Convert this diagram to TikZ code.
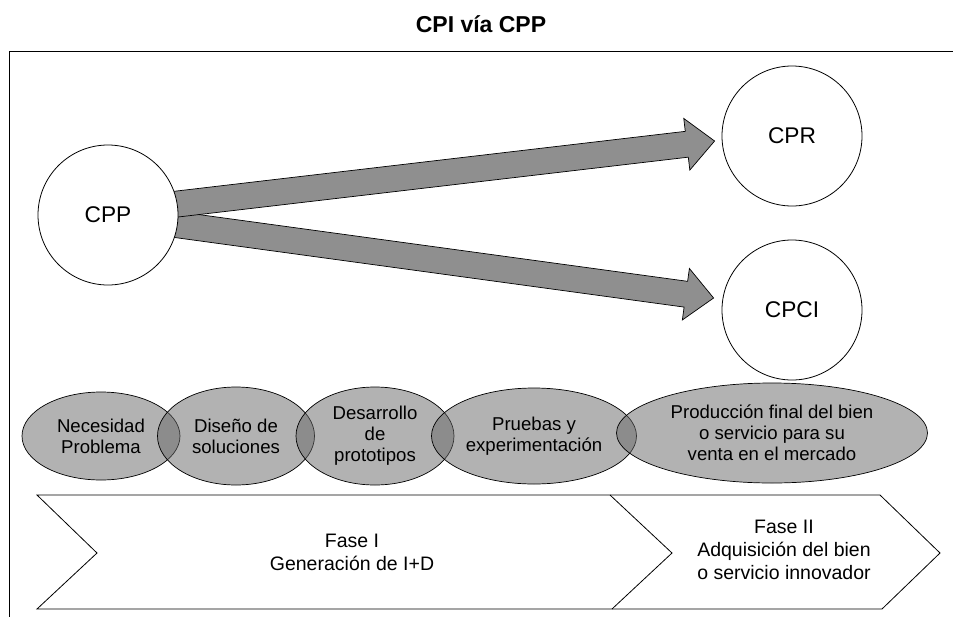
\documentclass[tikz,border=0pt]{standalone}
\usepackage{fontspec}
\setmainfont{Liberation Sans}
\usetikzlibrary{shapes.geometric,calc,backgrounds}
\newcommand\fatarrow[2]{%
  \coordinate (fa-h) at ($(#2)!28pt!(#1)$);
  \draw[fatarrow] ($(#1)!13pt!90:(#2)$) -- ($(fa-h)!13pt!90:(#2)$) -- ($(fa-h)!26pt!90:(#2)$) -- (#2)
    -- ($(fa-h)!26pt!-90:(#2)$) -- ($(fa-h)!13pt!-90:(#2)$) -- ($(#1)!13pt!-90:(#2)$) -- cycle;}
\begin{document}
\begin{tikzpicture}[x=1pt,y=-1pt,
            hub/.style={circle, draw, fill=white, line width=0.8pt, minimum size=140pt, inner sep=0pt, font=\fontsize{22.7}{26}\selectfont},
            stage/.style={ellipse, draw, line width=0.7pt, fill=black!60, fill opacity=0.5, text opacity=1, inner sep=0pt, align=center, font=\fontsize{18.6}{21}\selectfont},
            fatarrow/.style={draw, line width=0.7pt, fill=black!44},
            phase/.style={draw, line width=0.8pt, line join=miter},
            phasetext/.style={align=center, font=\fontsize{19.5}{23}\selectfont}
            ]
            \useasboundingbox (0,0) rectangle (953,616);
            \clip (0,0) rectangle (953,616);
            \draw[line width=0.8pt] (9,51) rectangle (990,660);
            \node[font=\bfseries\fontsize{23}{27}\selectfont, anchor=base] (title) at (481,32) {CPI vía CPP};

            \node[hub] (cpp) at (108,215) {CPP};
            \node[hub] (cpr) at (792,136) {CPR};
            \node[hub] (cpci) at (792,310) {CPCI};

            \coordinate (t1) at ($(cpr.west)+(-7,5)$);
            \coordinate (t2) at ($(cpci.west)+(-8,-12)$);
            \coordinate (s1) at ($(t1)!1.08!(cpp.9.5)$);
            \coordinate (s2) at ($(t2)!1.08!(cpp.-8.4)$);
            \begin{pgfonlayer}{background}
            \fatarrow{s2}{t2}
            \fatarrow{s1}{t1}
            \end{pgfonlayer}

            \node[stage, minimum width=158pt, minimum height=88pt] (nec) at (101,436) {Necesidad\\Problema};
            \node[stage, minimum width=157pt, minimum height=98pt] (dis) at (236,436) {Diseño de\\soluciones};
            \node[stage, minimum width=158pt, minimum height=98pt] (des) at (375,436) {Desarrollo\\de\\prototipos};
            \node[stage, minimum width=205pt, minimum height=96pt] (pru) at (534,436) {Pruebas y\\experimentación};
            \node[stage, minimum width=311pt, minimum height=100pt] (pro) at (772,433) {Producción final del bien\\o servicio para su\\venta en el mercado};

            \draw[phase] (37,495) -- (610,495) -- (672,553) -- (612,609) -- (37,609) -- (97,553) -- cycle;
            \draw[phase] (610,495) -- (880,495) -- (940,553) -- (882,609) -- (612,609);
            \node[phasetext] (fase1) at (352,552) {Fase I\\Generación de I+D};
            \node[phasetext] (fase2) at (784,550) {Fase II\\Adquisición del bien\\o servicio innovador};
            \end{tikzpicture}
\end{document}
